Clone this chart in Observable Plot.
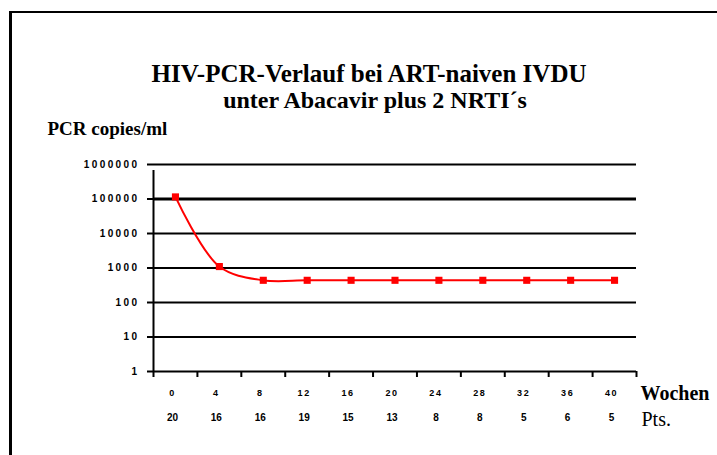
<!DOCTYPE html>
<html>
<head>
<meta charset="utf-8">
<script src="https://cdn.jsdelivr.net/npm/d3@7"></script>
<script src="https://cdn.jsdelivr.net/npm/@observablehq/plot@0.6"></script>
<style>
  html, body { margin: 0; padding: 0; background: #fff; }
  #wrap { position: relative; width: 717px; height: 455px; overflow: hidden; }
  #border { position: absolute; left: 9px; top: 11px; width: 720px; height: 460px;
            border-left: 3px solid #000; border-top: 2px solid #000; box-sizing: border-box; }
  #chart { position: absolute; left: 0; top: 0; }
  .spaced text { letter-spacing: 1.6px; }
  .wide text { letter-spacing: 2.4px; }
</style>
</head>
<body>
<div id="wrap"><div id="chart"></div><div id="border"></div></div>
<script>
// Data
const weeks = [0, 4, 8, 12, 16, 20, 24, 28, 32, 36, 40];
const pcrCopies = [115000, 1100, 440, 440, 440, 440, 440, 440, 440, 440, 440];
const patients = [20, 16, 16, 19, 15, 13, 8, 8, 5, 6, 5];
const yTicks = [1, 10, 100, 1000, 10000, 100000, 1000000];
const titleLines = ["HIV-PCR-Verlauf bei ART-naiven IVDU", "unter Abacavir plus 2 NRTI´s"];
const yTitle = "PCR copies/ml";
const xTitle = "Wochen";
const ptsTitle = "Pts.";

const halfStep = 2;
const boundaries = [weeks[0] - halfStep, ...weeks.map(w => w + halfStep)];
const data = weeks.map((w, i) => ({week: w, value: pcrCopies[i], pts: patients[i]}));

const serif = "'Liberation Serif', 'Times New Roman', serif";
const tickFont = "'Liberation Sans', Arial, sans-serif";

const chart = Plot.plot({
  width: 717,
  height: 455,
  marginLeft: 153,
  marginRight: 81,
  marginTop: 164,
  marginBottom: 84,
  style: {background: "transparent", color: "#000", fontFamily: tickFont},
  x: {domain: [boundaries[0], boundaries[boundaries.length - 1]], axis: null},
  y: {type: "log", domain: [1, 1000000], axis: null},
  marks: [
    Plot.ruleY(yTicks.filter(v => v > 1), {y: d => d, stroke: "#000", strokeWidth: d => d === 100000 ? 3 : 2}),
    Plot.axisX({ticks: boundaries, tickSize: 6, tickFormat: () => "", strokeWidth: 2, anchor: "bottom", label: null}),
    Plot.axisY({ticks: yTicks, tickSize: 6, tickPadding: 8, tickFormat: d => String(d), strokeWidth: 2,
                fontSize: 10, fontWeight: "bold", anchor: "left", label: null, className: "wide"}),
    Plot.ruleX([boundaries[0]], {stroke: "#000", strokeWidth: 2, y1: 1, y2: 1000000, insetBottom: -6}),
    Plot.ruleY([1], {stroke: "#000", strokeWidth: 2}),
    Plot.line(data, {x: "week", y: "value", stroke: "#ff0000", strokeWidth: 2, curve: "catmull-rom"}),
    Plot.dot(data, {x: "week", y: "value", symbol: "square", r: 4, fill: "#ff0000", stroke: "none"}),
    Plot.text(data, {x: "week", text: d => String(d.week), frameAnchor: "bottom", lineAnchor: "middle",
                     dy: 22, dx: -3, fontSize: 9, fontWeight: "bold", className: "spaced"}),
    Plot.text(data, {x: "week", text: d => String(d.pts), frameAnchor: "bottom", lineAnchor: "middle",
                     dy: 46, dx: -3, fontSize: 10, fontWeight: "bold"}),
    Plot.text([titleLines[0]], {frameAnchor: "top", lineAnchor: "middle", dx: -26, dy: -91, fontSize: 25,
                                fontWeight: "bold", fontFamily: serif}),
    Plot.text([titleLines[1]], {frameAnchor: "top", lineAnchor: "middle", dx: -20, dy: -64, fontSize: 24,
                                fontWeight: "bold", fontFamily: serif}),
    Plot.text([yTitle], {frameAnchor: "top-left", lineAnchor: "middle", dx: -106, dy: -36, textAnchor: "start",
                         fontSize: 19, fontWeight: "bold", fontFamily: serif}),
    Plot.text([xTitle], {frameAnchor: "bottom-right", lineAnchor: "middle", dx: 4, dy: 22, textAnchor: "start",
                         fontSize: 20, fontWeight: "bold", fontFamily: serif}),
    Plot.text([ptsTitle], {frameAnchor: "bottom-right", lineAnchor: "middle", dx: 5, dy: 48, textAnchor: "start",
                           fontSize: 20, fontFamily: serif})
  ]
});
document.getElementById("chart").appendChild(chart);
</script>
</body>
</html>
